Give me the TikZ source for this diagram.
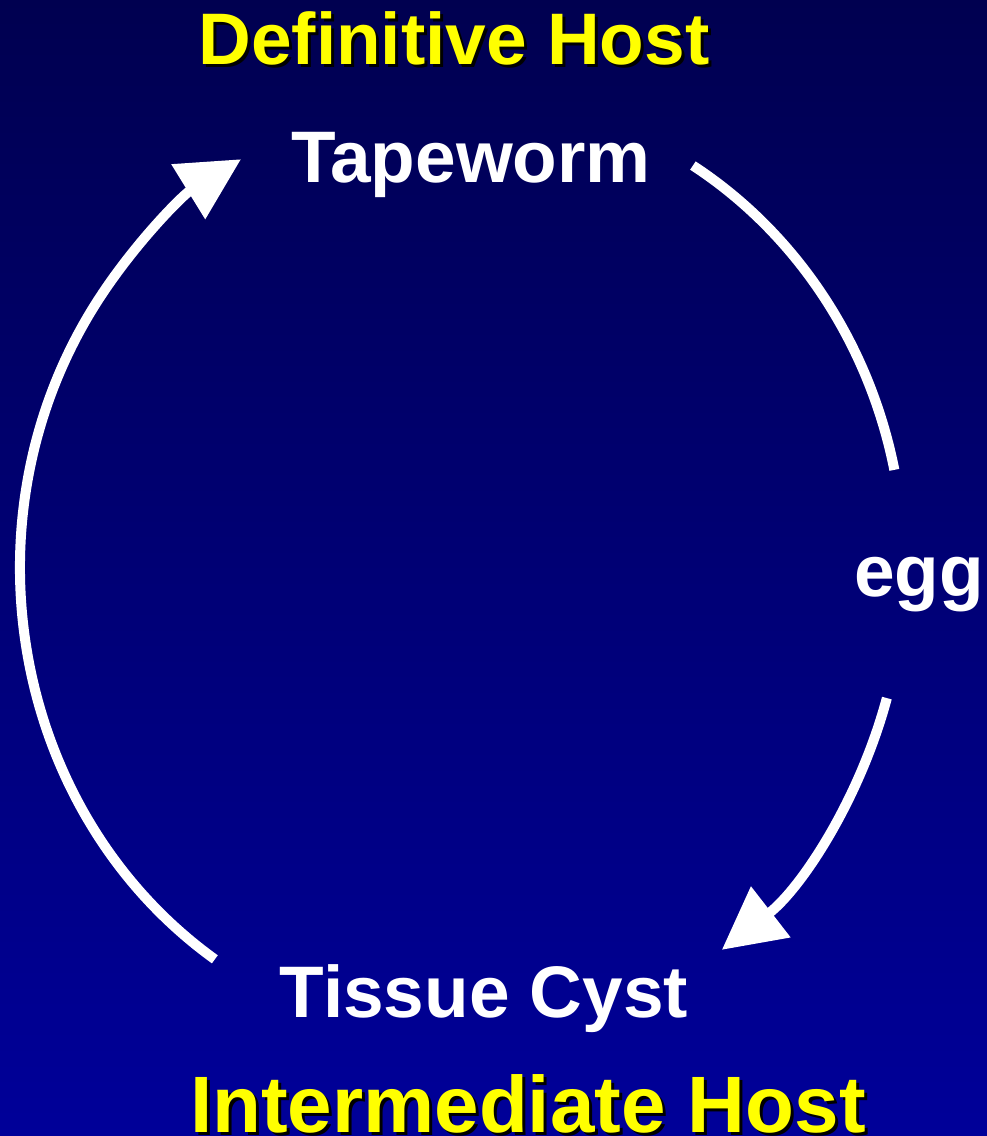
\documentclass[tikz,border=0pt]{standalone}
\usepackage{fontspec}
\setmainfont{Liberation Sans}
\usetikzlibrary{arrows.meta}
\definecolor{bgtop}{HTML}{000050}
\definecolor{bgbot}{HTML}{000099}
\definecolor{hostyellow}{HTML}{FFFF00}
\newcommand{\shadowed}[1]{\makebox[0pt][l]{\hspace{3pt}\raisebox{-3pt}{\color{black}#1}}#1}

\begin{document}
\begin{tikzpicture}[x=1pt, y=1pt, >={Triangle[length=62pt, width=62pt]},
  stage/.style={text=white, font=\bfseries\fontsize{73}{80}\selectfont, anchor=base, inner sep=0pt},
  host/.style={text=hostyellow, font=\bfseries\fontsize{73}{80}\selectfont, anchor=base, inner sep=0pt},
  lifearc/.style={draw=white, line width=10pt}]
  \shade[top color=bgtop, bottom color=bgbot] (0,0) rectangle (987,1136);
  \useasboundingbox (0,0) rectangle (987,1136);
  % labels
  \node[host] (defhost) at (454,1071) {\shadowed{Definitive Host}};
  \node[stage] (worm) at (471,953) {Tapeworm};
  \node[stage] (egg) at (919,539) {egg};
  \node[stage] (cyst) at (484,118) {Tissue Cyst};
  \node[host, font=\bfseries\fontsize{80}{88}\selectfont] (inthost) at (528,4) {\shadowed{Intermediate Host}};
  % cycle
  \coordinate (c) at (462,568);
  \coordinate (wormout) at ([shift={(58.5:442pt and 472pt)}]c);
  \coordinate (eggout) at ([shift={(-16:442pt and 472pt)}]c);
  \coordinate (cystout) at ([shift={(236:442pt and 472pt)}]c);
  \draw[lifearc] (wormout) arc[start angle=58.5, end angle=12, x radius=442pt, y radius=472pt];
  \draw[lifearc, ->] (eggout) arc[start angle=-16, end angle=-54, x radius=442pt, y radius=472pt];
  \draw[lifearc, ->] (cystout) arc[start angle=236, end angle=120, x radius=442pt, y radius=472pt];
\end{tikzpicture}
\end{document}
